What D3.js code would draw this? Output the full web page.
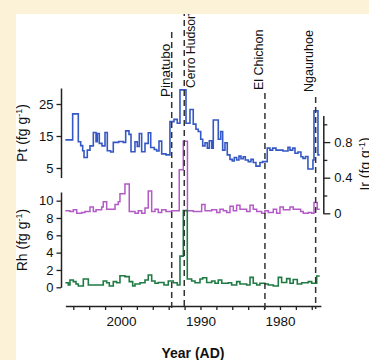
<!DOCTYPE html>
<html>
<head>
<meta charset="utf-8">
<script src="https://cdn.jsdelivr.net/npm/d3@7"></script>
<style>
  body { margin: 0; background: #fcf2d8; }
  svg { display: block; font-family: "Liberation Sans", Arial, sans-serif; }
</style>
</head>
<body>
<script>
// Pt (top panel, left axis) : [year, fg/g], each value holds until the next year
var ptSeries = [
  [2007.0,13.8],[2006.08,21.9],[2005.37,13.2],[2005.07,12.0],[2004.82,10.4],[2004.65,8.3],
  [2004.24,10.6],[2003.9,11.9],[2003.48,16.1],[2003.14,13.2],[2002.98,15.8],[2002.73,12.7],
  [2002.39,11.9],[2002.01,16.1],[2001.72,10.4],[2001.3,10.0],[2000.97,13.0],[2000.29,13.3],
  [1999.71,13.0],[1999.41,16.6],[1998.99,15.5],[1998.74,10.1],[1998.24,13.2],[1997.95,11.7],
  [1997.7,15.8],[1997.4,10.1],[1996.98,12.7],[1996.57,16.0],[1996.26,11.4],[1995.81,10.8],
  [1995.51,10.3],[1995.22,13.4],[1994.88,9.4],[1994.34,9.1],[1993.84,19.5],[1993.33,20.2],
  [1992.92,19.0],[1992.58,29.4],[1991.82,19.0],[1991.32,23.3],[1990.91,18.7],[1990.57,17.1],
  [1990.28,16.4],[1989.97,14.0],[1989.72,11.9],[1989.43,12.9],[1989.14,11.2],[1988.89,13.5],
  [1988.59,11.2],[1988.39,20.0],[1987.76,14.0],[1987.46,16.4],[1987.21,10.6],[1986.92,12.9],
  [1986.63,9.1],[1986.29,7.7],[1986.0,7.2],[1985.75,8.3],[1985.45,7.5],[1985.16,8.7],
  [1984.91,7.9],[1984.62,8.5],[1984.36,7.5],[1983.99,7.0],[1983.65,7.7],[1983.36,6.7],
  [1983.02,5.6],[1982.52,6.7],[1982.18,7.0],[1981.6,11.2],[1981.26,10.6],[1980.92,11.2],
  [1980.5,10.6],[1979.62,10.3],[1978.99,11.5],[1978.74,10.6],[1978.4,11.2],[1978.11,9.6],
  [1977.74,10.0],[1977.36,8.5],[1977.11,8.0],[1976.79,8.6],[1976.48,4.7],[1975.85,7.5],
  [1975.72,22.9],[1975.22,9.1],[1975.0,9.1]
];

// Ir (right axis)
var irSeries = [
  [2007.0,0.03],[2006.42,0.02],[2006.0,0.04],[2005.57,0.0],[2004.94,0.01],[2004.53,0.02],
  [2003.9,0.07],[2003.48,0.02],[2003.14,0.04],[2002.43,0.07],[2002.23,0.13],[2001.8,0.045],
  [2000.75,0.10],[2000.34,0.13],[2000.13,0.22],[1999.5,0.33],[1998.96,0.02],[1998.24,0.0],
  [1997.82,0.03],[1997.4,0.0],[1996.98,0.06],[1996.57,0.25],[1996.14,0.02],[1995.72,0.045],
  [1995.31,0.01],[1994.88,0.04],[1994.34,0.02],[1993.62,0.03],[1992.67,0.49],[1992.16,0.81],
  [1991.64,0.03],[1990.91,0.02],[1989.85,0.10],[1989.43,0.03],[1988.59,0.04],[1987.96,0.01],
  [1987.55,0.045],[1987.13,0.03],[1986.7,0.01],[1986.29,0.08],[1985.87,0.03],[1985.45,0.09],
  [1985.03,0.045],[1984.19,0.02],[1983.77,0.09],[1983.36,0.045],[1982.93,0.02],[1982.3,0.0],
  [1981.89,0.03],[1981.47,0.01],[1980.84,0.045],[1980.42,0.0],[1980.0,0.07],[1979.58,0.04],
  [1978.74,0.07],[1978.33,0.045],[1977.4,0.02],[1977.07,0.0],[1976.44,0.01],[1976.01,0.0],
  [1975.72,0.12],[1975.31,0.045],[1975.0,0.045]
];

// Rh (bottom panel, left axis)
var rhSeries = [
  [2007.0,0.53],[2006.63,0.27],[2006.42,0.84],[2006.0,0.65],[2005.66,0.38],[2005.37,0.15],
  [2004.74,0.96],[2004.11,0.27],[2002.23,0.73],[2001.8,0.53],[2001.47,0.15],[2000.97,0.65],
  [2000.54,0.53],[2000.13,1.34],[1999.5,1.23],[1998.96,0.65],[1998.53,0.15],[1998.24,0.38],
  [1997.61,0.53],[1996.98,0.84],[1996.57,1.42],[1996.14,0.73],[1995.72,0.46],[1995.31,0.55],
  [1994.59,0.27],[1994.05,0.73],[1993.42,0.53],[1992.92,0.27],[1992.58,3.6],[1992.16,8.85],
  [1991.66,0.96],[1991.11,0.73],[1990.69,0.53],[1990.06,0.96],[1989.72,1.1],[1989.22,0.55],
  [1988.59,0.73],[1988.18,0.46],[1987.76,0.84],[1987.33,0.46],[1986.5,0.53],[1986.08,0.27],
  [1985.45,0.65],[1985.03,0.38],[1984.19,0.27],[1983.77,1.15],[1983.36,0.46],[1982.93,0.27],
  [1982.52,0.46],[1981.89,0.38],[1981.47,0.27],[1980.84,0.15],[1980.21,1.15],[1979.79,0.55],
  [1979.16,1.0],[1978.74,0.46],[1978.33,0.9],[1977.82,0.38],[1977.27,0.53],[1976.44,0.65],
  [1976.01,0.46],[1975.38,1.3],[1975.0,1.3]
];

var volcanoNames = ["Pinatubo", "Cerro Hudson", "El Chichon", "Ngauruhoe"];
var volcanoYears = [1993.62, 1992.04, 1981.89, 1975.51];

var yearTicks = d3.range(1976, 2007, 2);
var yearLabels = [2000, 1990, 1980];
var ptTicks = [5, 15, 25];
var rhTicks = [0, 2, 4, 6, 8, 10];
var irTicks = [0, 0.2, 0.4, 0.6, 0.8, 1.0];
var irLabels = [0, 0.4, 0.8];

var W = 369, H = 360;
var svg = d3.select("body").append("svg")
  .attr("width", W)
  .attr("height", H);

svg.append("rect").attr("x", 16).attr("y", 14).attr("width", W - 16).attr("height", H - 14).attr("fill", "#fff");

var x = d3.scaleLinear().domain([2007, 1974.85]).range([65.35, 320.9]);
var yPt = d3.scaleLinear().domain([2, 30]).range([177.6, 88]);
var yRh = d3.scaleLinear().domain([0, 11]).range([287.3, 192]);
var yIr = d3.scaleLinear().domain([0, 1.1]).range([213.3, 115.4]);

var axisColor = "#222";

function styleAxis(g, fs) {
  g.selectAll("path.domain").attr("stroke", axisColor).attr("stroke-width", 1.5);
  g.selectAll(".tick line").attr("stroke", axisColor).attr("stroke-width", 1.3);
  g.selectAll(".tick text").attr("fill", "#111").style("font-size", fs + "px")
    .style("font-family", "'Liberation Sans', Arial, sans-serif");
}

// x axis
var gx = svg.append("g").attr("transform", "translate(0,306)")
  .call(d3.axisBottom(x).tickValues(yearTicks).tickSize(4).tickSizeOuter(0).tickPadding(6)
    .tickFormat(function (d) { return yearLabels.indexOf(d) >= 0 ? d : ""; }));
styleAxis(gx, 13.5);

// Pt axis
var gpt = svg.append("g").attr("transform", "translate(61,0)")
  .call(d3.axisLeft(yPt).tickValues(ptTicks).tickSize(4.5).tickSizeOuter(0).tickPadding(3));
styleAxis(gpt, 13);

// Rh axis
var grh = svg.append("g").attr("transform", "translate(61,0)")
  .call(d3.axisLeft(yRh).tickValues(rhTicks).tickSize(4.5).tickSizeOuter(0).tickPadding(3));
styleAxis(grh, 13);

// Ir axis
var gir = svg.append("g").attr("transform", "translate(323.3,0)")
  .call(d3.axisRight(yIr).tickValues(irTicks).tickSize(7).tickSizeOuter(0).tickPadding(4)
    .tickFormat(function (d) { return irLabels.indexOf(d) >= 0 ? d : ""; }));
styleAxis(gir, 13);
gir.selectAll(".tick").filter(function (d) { return irLabels.indexOf(d) < 0; })
  .select("line").attr("x2", 4);

// axis titles
function unitLabel(tx, ty, name) {
  var t = svg.append("text")
    .attr("transform", "translate(" + tx + "," + ty + ") rotate(-90)")
    .attr("text-anchor", "middle")
    .style("font-size", "14px")
    .attr("fill", "#111");
  t.append("tspan").text(name + " (fg g");
  t.append("tspan").attr("dy", -5).style("font-size", "9px").text("-1");
  t.append("tspan").attr("dy", 5).text(")");
}
unitLabel(27, 133, "Pt");
unitLabel(27, 240, "Rh");
unitLabel(370, 164, "Ir");

svg.append("text")
  .attr("x", 193).attr("y", 357.5)
  .attr("text-anchor", "middle")
  .style("font-size", "14px").style("font-weight", "bold")
  .attr("fill", "#111")
  .text("Year (AD)");

// series
function stepLine(yScale) {
  return d3.line()
    .x(function (d) { return x(d[0]); })
    .y(function (d) { return yScale(d[1]); })
    .curve(d3.curveStepAfter);
}

svg.append("path").datum(ptSeries)
  .attr("d", stepLine(yPt))
  .attr("fill", "none").attr("stroke", "#3558c4").attr("stroke-width", 1.6);

svg.append("path").datum(irSeries)
  .attr("d", stepLine(yIr))
  .attr("fill", "none").attr("stroke", "#b35ac6").attr("stroke-width", 1.5);

svg.append("path").datum(rhSeries)
  .attr("d", stepLine(yRh))
  .attr("fill", "none").attr("stroke", "#1f7a43").attr("stroke-width", 1.6);

// volcano markers
var markerLayout = [
  { dx: -1.7, yEnd: 97, top: 32, fs: 13.5 },
  { dx: 11.2, yEnd: 88, top: 0, fs: 12.2 },
  { dx: -1.5, yEnd: 90, top: 93, fs: 12.5 },
  { dx: -2.7, yEnd: 92, top: 97, fs: 12.5 }
];

volcanoYears.forEach(function (yr, i) {
  var lx = x(yr), m = markerLayout[i];
  svg.append("line")
    .attr("x1", lx).attr("x2", lx)
    .attr("y1", m.top).attr("y2", 309)
    .attr("stroke", "#333").attr("stroke-width", 1.5)
    .attr("stroke-dasharray", "6,4");
  svg.append("text")
    .attr("transform", "translate(" + (lx + m.dx) + "," + m.yEnd + ") rotate(-90)")
    .style("font-size", m.fs + "px")
    .attr("fill", "#111")
    .text(volcanoNames[i]);
});

// frame bands (page border)
svg.append("rect").attr("x", 0).attr("y", 0).attr("width", W).attr("height", 14).attr("fill", "#fcf2d8");
svg.append("rect").attr("x", 0).attr("y", 0).attr("width", 16).attr("height", H).attr("fill", "#fcf2d8");
</script>
</body>
</html>
